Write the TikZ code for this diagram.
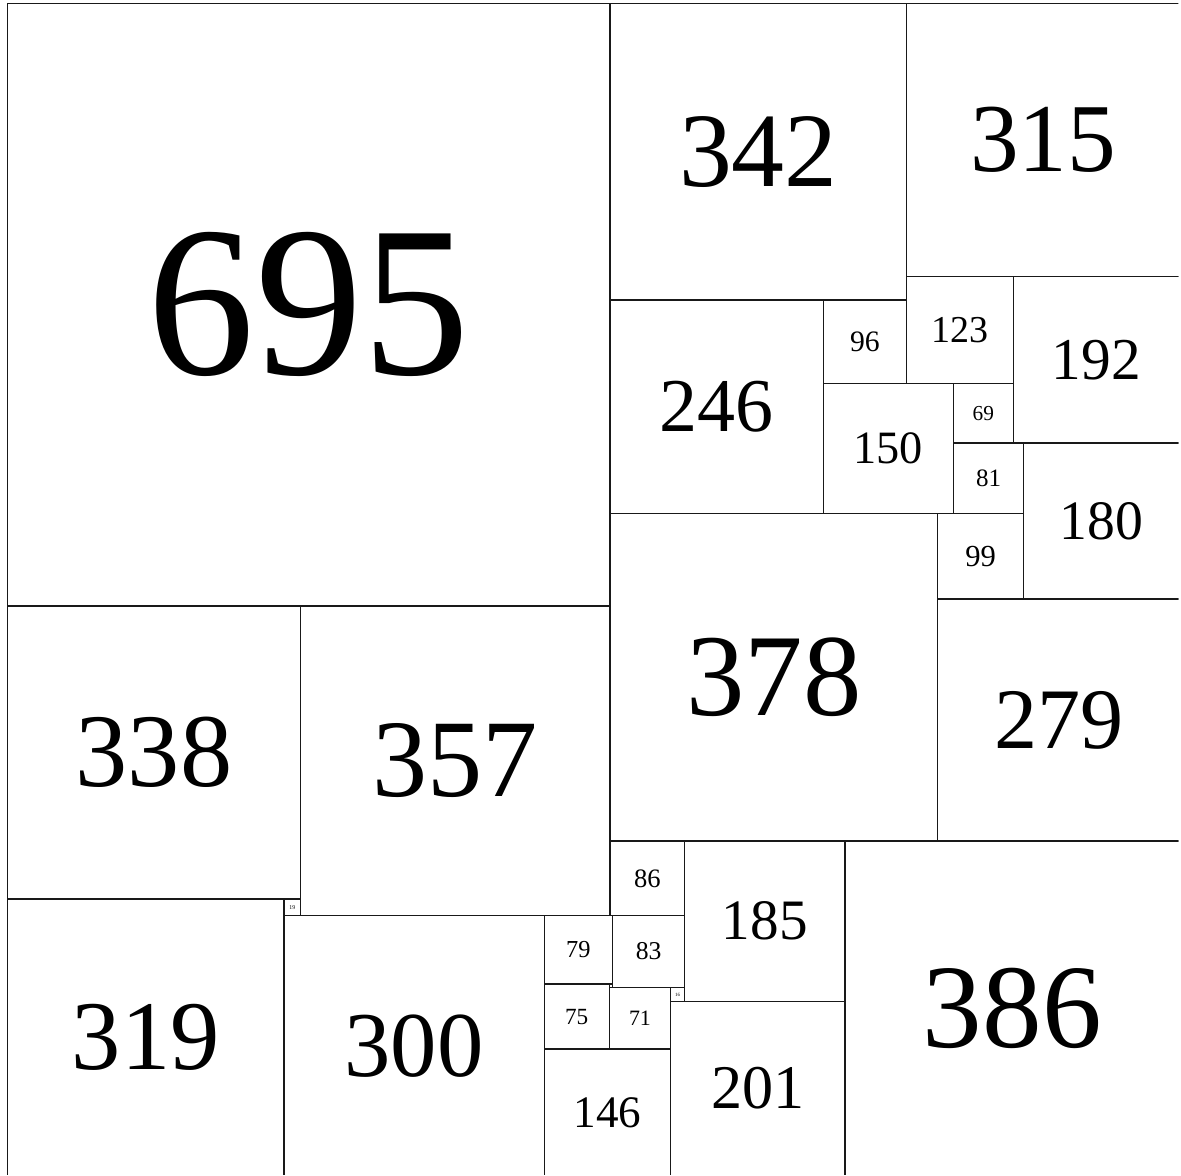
\documentclass[tikz,border=0pt]{standalone}
\usepackage{fontspec}
\setmainfont{Liberation Serif}
\newcommand\sqfont[1]{\pgfmathsetmacro\sqfs{#1*0.309}\fontsize{\sqfs pt}{\sqfs pt}\selectfont}
\tikzset{
  sq/.style={draw=black!90, line width=1.3pt, minimum size=#1*0.867pt, inner sep=0pt, font=\sqfont{#1}}
}
\newcommand\sq[3]{\node[sq=#1] (s#1) at ({#2+#1/2},{#3+#1/2}) {#1};}
\begin{document}
\begin{tikzpicture}[x=0.867pt, y=-0.867pt]
\useasboundingbox (-8.65,-4.04) rectangle (1353.5,1351.2);
\clip (-8.65,-4.04) rectangle (1350.4,1350.4);
\sq{695}{0}{0}
\sq{342}{695}{0}
\sq{315}{1037}{0}
\sq{246}{695}{342}
\sq{96}{941}{342}
\sq{123}{1037}{315}
\sq{192}{1160}{315}
\sq{150}{941}{438}
\sq{69}{1091}{438}
\sq{81}{1091}{507}
\sq{180}{1172}{507}
\sq{99}{1073}{588}
\sq{378}{695}{588}
\sq{279}{1073}{687}
\sq{338}{0}{695}
\sq{357}{338}{695}
\sq{19}{319}{1033}
\sq{319}{0}{1033}
\sq{300}{319}{1052}
\sq{86}{695}{966}
\sq{185}{781}{966}
\sq{386}{966}{966}
\sq{79}{619}{1052}
\sq{83}{698}{1052}
\sq{75}{619}{1131}
\sq{71}{694}{1135}
\sq{16}{765}{1135}
\sq{201}{765}{1151}
\sq{146}{619}{1206}
\end{tikzpicture}
\end{document}
